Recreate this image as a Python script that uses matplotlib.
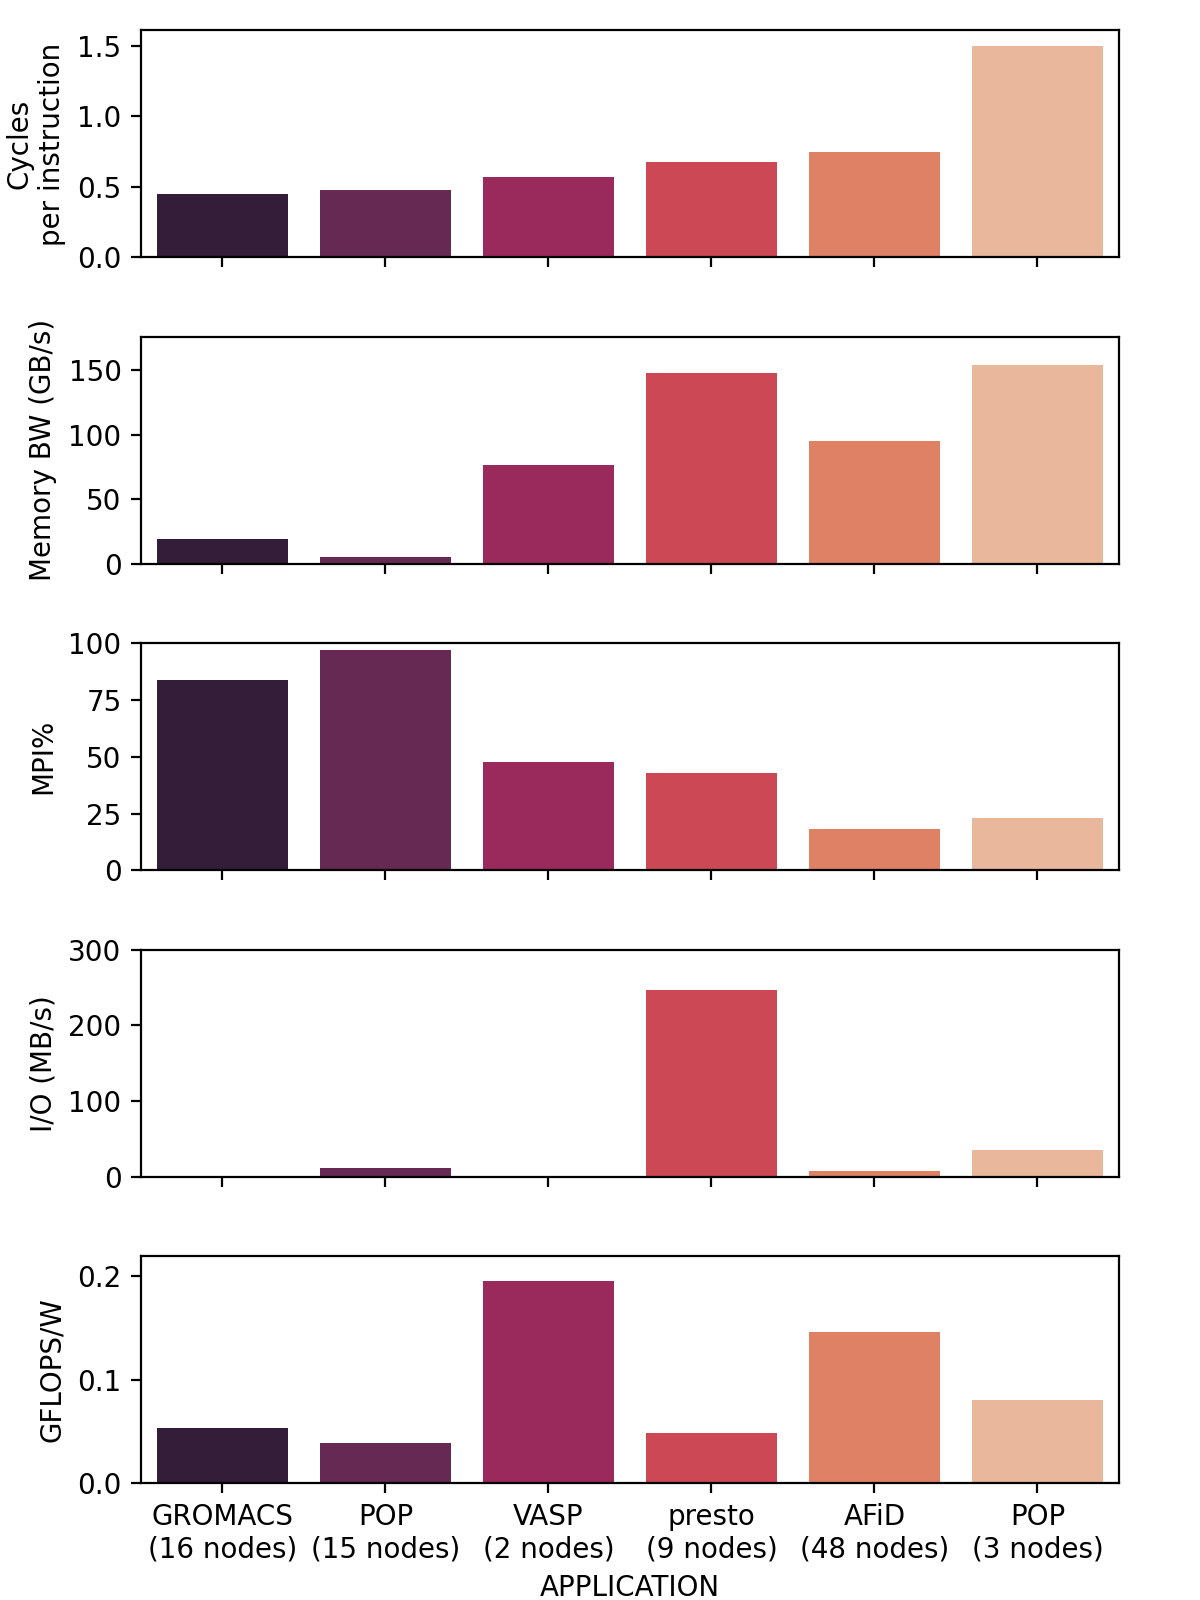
import numpy as np
import pandas as pd
import matplotlib
matplotlib.use("Agg")
import matplotlib.pyplot as plt
import seaborn as sns

# applications with node counts
apps = ["GROMACS\n(16 nodes)", "POP\n(15 nodes)", "VASP\n(2 nodes)",
        "presto\n(9 nodes)", "AFiD\n(48 nodes)", "POP\n(3 nodes)"]

cpi = [0.447, 0.476, 0.57, 0.678, 0.75, 1.495]
mem_bw = [19, 5.6, 77, 148, 95, 154]
mpi_pct = [84, 97, 47.5, 43, 18, 23]
io_mbs = [0.3, 11, 0.3, 247, 8, 35]
gflops_w = [0.0535, 0.0386, 0.195, 0.0485, 0.1455, 0.080]

ylabels = ["Cycles\nper instruction", "Memory BW (GB/s)", "MPI%",
           "I/O (MB/s)", "GFLOPS/W"]
ylims = [(0, 1.608), (0, 176), (0, 100), (0, 300), (0, 0.219)]

metrics = [cpi, mem_bw, mpi_pct, io_mbs, gflops_w]

fig, axes = plt.subplots(5, 1, figsize=(6, 8), dpi=200, sharex=True)
fig.subplots_adjust(left=0.1175, right=0.9325, top=0.981, bottom=0.073, hspace=0.35)

for ax, vals, lab, lim in zip(axes, metrics, ylabels, ylims):
    df = pd.DataFrame({"APPLICATION": apps, "val": vals})
    sns.barplot(data=df, x="APPLICATION", y="val", hue="APPLICATION",
                palette="rocket", legend=False, ax=ax)
    ax.set_ylabel(lab)
    ax.set_ylim(*lim)
    ax.set_xlabel("")

axes[-1].set_xlabel("APPLICATION")

plt.savefig("out.png")
